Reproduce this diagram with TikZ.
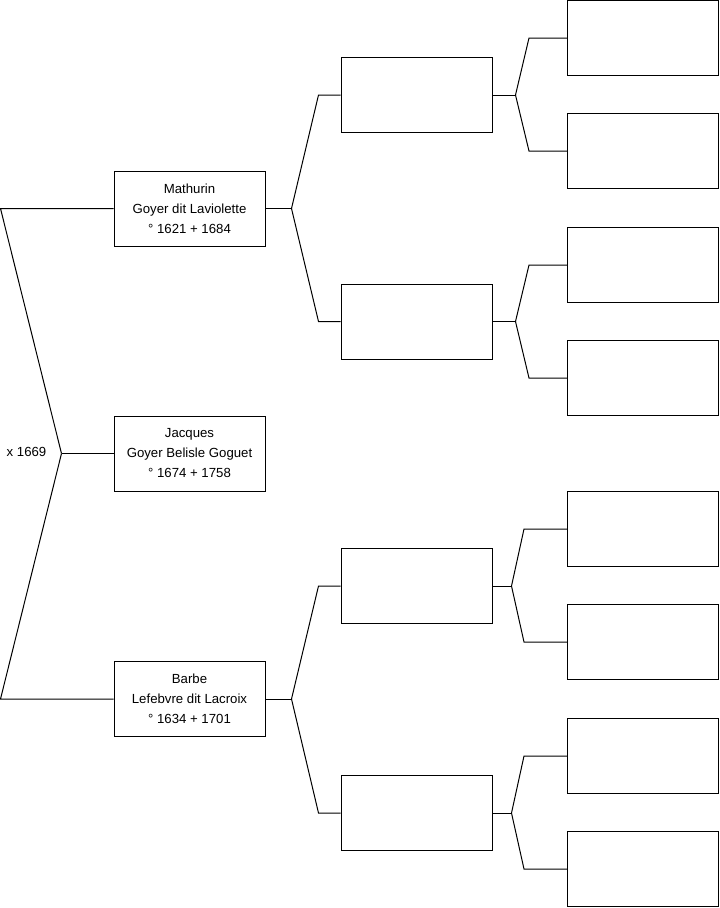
\documentclass[tikz,border=0pt]{standalone}
\usepackage{fontspec}
\setmainfont{Liberation Sans}
\usetikzlibrary{positioning}

\begin{document}
\begin{tikzpicture}[
      x=0.75pt, y=-0.75pt,
      person/.style={draw, line width=0.75pt, align=center, minimum width=113.25pt, minimum height=56.25pt, inner sep=0pt, font=\fontsize{9.9}{15}\selectfont},
      line/.style={line width=0.75pt}
    ]
    \useasboundingbox (0,0) rectangle (719,908);
    % generation 1 and 2
    \node[person] (jacques) at (189.5,453.5) {Jacques \\ Goyer Belisle Goguet \\ ° 1674 + 1758};
    \node[person] (mathurin) at (189.5,208.5) {Mathurin \\ Goyer dit Laviolette \\ ° 1621 + 1684};
    \node[person] (barbe) at (189.5,699) {Barbe \\ Lefebvre dit Lacroix \\ ° 1634 + 1701};
    \node[font=\fontsize{9.9}{15}\selectfont] (wed) at (26.5,451.5) {x 1669};
    % generation 3
    \node[person] (gp1) at (416.5,95) {};
    \node[person] (gp2) at (416.5,321.5) {};
    \node[person] (gp3) at (416.5,586) {};
    \node[person] (gp4) at (416.5,813) {};
    % generation 4
    \node[person] (ggp1) at (643,38) {};
    \node[person] (ggp2) at (643,151) {};
    \node[person] (ggp3) at (643,265) {};
    \node[person] (ggp4) at (643,378) {};
    \node[person] (ggp5) at (643,529) {};
    \node[person] (ggp6) at (643,642) {};
    \node[person] (ggp7) at (643,756) {};
    \node[person] (ggp8) at (643,869) {};
    % parents of jacques
    \draw[line] (jacques.west) -- ++(-52,0) coordinate (j0);
    \draw[line] (mathurin.west) -- ++(-113,0) -- (j0);
    \draw[line] (barbe.west) -- ++(-113,0) -- (j0);
    % grandparents
    \draw[line] (mathurin.east) -- ++(26,0) coordinate (m0);
    \draw[line] (gp1.west) -- ++(-22,0) -- (m0);
    \draw[line] (gp2.west) -- ++(-22,0) -- (m0);
    \draw[line] (barbe.east) -- ++(26,0) coordinate (b0);
    \draw[line] (gp3.west) -- ++(-22,0) -- (b0);
    \draw[line] (gp4.west) -- ++(-22,0) -- (b0);
    % great-grandparents
    \draw[line] (gp1.east) -- ++(23,0) coordinate (g1);
    \draw[line] (ggp1.west) -- ++(-38,0) -- (g1);
    \draw[line] (ggp2.west) -- ++(-38,0) -- (g1);
    \draw[line] (gp2.east) -- ++(23,0) coordinate (g2);
    \draw[line] (ggp3.west) -- ++(-38,0) -- (g2);
    \draw[line] (ggp4.west) -- ++(-38,0) -- (g2);
    \draw[line] (gp3.east) -- ++(19,0) coordinate (g3);
    \draw[line] (ggp5.west) -- ++(-43,0) -- (g3);
    \draw[line] (ggp6.west) -- ++(-43,0) -- (g3);
    \draw[line] (gp4.east) -- ++(19,0) coordinate (g4);
    \draw[line] (ggp7.west) -- ++(-43,0) -- (g4);
    \draw[line] (ggp8.west) -- ++(-43,0) -- (g4);
  \end{tikzpicture}
\end{document}
